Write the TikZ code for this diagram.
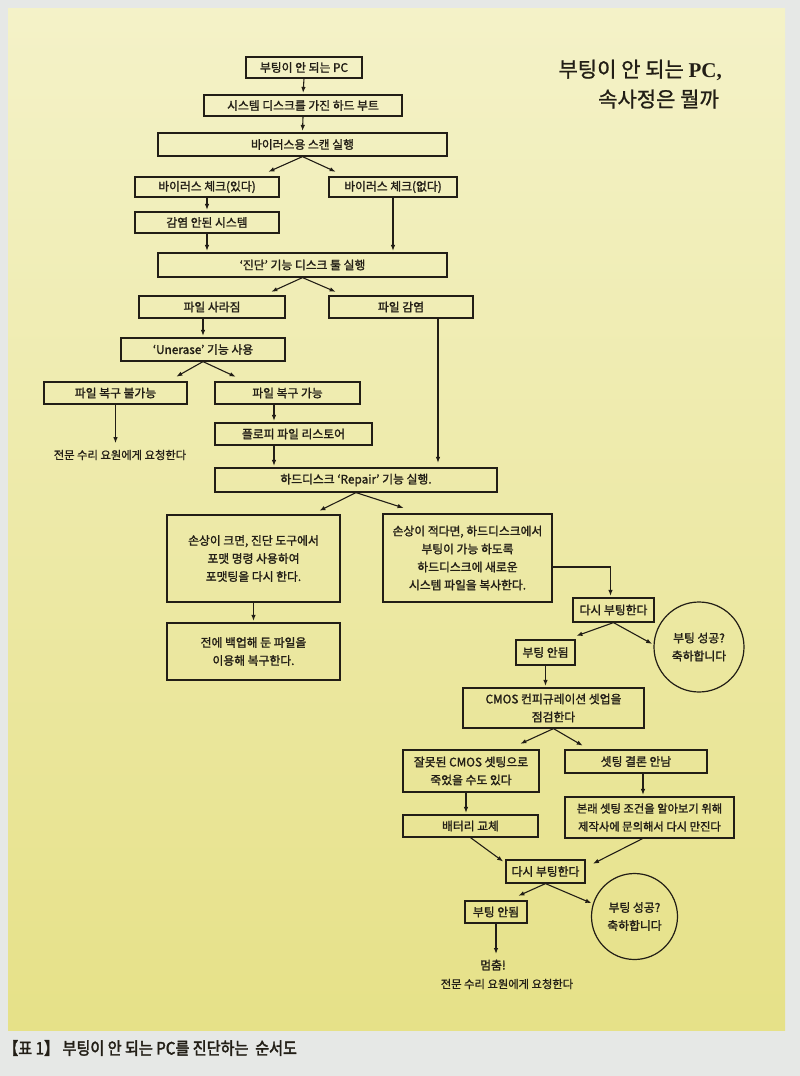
\documentclass[tikz,border=0pt]{standalone}
\usepackage{fontspec}
\usepackage{graphicx}
\setmainfont{Noto Sans CJK KR}
\newfontfamily\krb{Noto Sans CJK KR}[FakeBold=1.6]
\newfontfamily\krc{Noto Sans CJK KR}[FakeBold=2.4]
\newfontfamily\krr{Noto Sans CJK KR}[FakeBold=0.9]
\newfontfamily\krt{Noto Sans CJK KR}[FakeBold=1.0]
\newfontfamily\latserif{Liberation Serif}
\usetikzlibrary{arrows.meta,calc}
\definecolor{ink}{HTML}{221E16}
\definecolor{outer}{HTML}{E6E8E6}
\definecolor{paneltop}{HTML}{F4F2C8}
\definecolor{panelmid}{HTML}{EFECB0}
\definecolor{panelbot}{HTML}{E6E188}
\newcommand\boxfont{\krb\fontsize{11.8}{18}\selectfont}
\newcommand\plainfont{\krr\fontsize{11.3}{18}\selectfont}
\tikzset{
  bx/.style={draw=ink, line width=1.2pt, inner sep=1pt, align=center, font=\boxfont, text=ink},
  circ/.style={draw=ink, line width=1.2pt, circle, inner sep=0pt, align=center, font=\boxfont, text=ink},
  plain/.style={inner sep=1pt, align=center, font=\plainfont, text=ink},
  arr/.style={draw=ink, line width=1.1pt, -{Latex[length=6pt,width=4.5pt]}, shorten >=1.5pt},
  ln/.style={draw=ink, line width=1.1pt}
}
\begin{document}
\begin{tikzpicture}[x=1pt,y=-1pt]
\useasboundingbox (0,0) rectangle (800,1076);
\fill[outer] (0,0) rectangle (800,1076);
\shade[top color=paneltop, middle color=panelmid, bottom color=panelbot] (8,8) rectangle (785,1030);

% title
\node[anchor=east, inner sep=0pt, text=ink] (ttl1) at (722,70) {\krt\fontsize{21}{24}\selectfont 부팅이 안 되는 {\latserif\bfseries PC,}};
\node[anchor=east, inner sep=0pt, text=ink] (ttl2) at (719,99) {\krt\fontsize{21}{24}\selectfont 속사정은 뭘까};

% boxes
\node[bx, minimum width=116pt, minimum height=21pt] (n1) at (304,67.5) {부팅이 안 되는 PC};
\node[bx, minimum width=198pt, minimum height=21pt] (n2) at (303,105.5) {시스템 디스크를 가진 하드 부트};
\node[bx, minimum width=289pt, minimum height=23pt] (n3) at (302.5,144.5) {바이러스용 스캔 실행};
\node[bx, minimum width=144pt, minimum height=20pt] (n4) at (207,187) {바이러스 체크(있다)};
\node[bx, minimum width=128pt, minimum height=20pt] (n5) at (393,187) {바이러스 체크(없다)};
\node[bx, minimum width=144pt, minimum height=21pt] (n6) at (207,222.5) {감염 안된 시스템};
\node[bx, minimum width=289pt, minimum height=24pt] (n7) at (302.5,265) {‘진단’ 기능 디스크 툴 실행};
\node[bx, minimum width=146pt, minimum height=22pt] (n8) at (212,307) {파일 사라짐};
\node[bx, minimum width=144pt, minimum height=22pt] (n9) at (401,307) {파일 감염};
\node[bx, minimum width=164pt, minimum height=23pt] (n10) at (203,349.5) {‘Unerase’ 기능 사용};
\node[bx, minimum width=143pt, minimum height=22pt] (n11) at (115.5,393) {파일 복구 불가능};
\node[bx, minimum width=145pt, minimum height=22pt] (n12) at (287.5,393) {파일 복구 가능};
\node[plain] (t1) at (120,455) {전문 수리 요원에게 요청한다};
\node[bx, minimum width=157pt, minimum height=22pt] (n13) at (293.5,434) {플로피 파일 리스토어};
\node[bx, minimum width=282pt, minimum height=24pt] (n14) at (356,480) {하드디스크 ‘Repair’ 기능 실행.};
\node[bx, minimum width=173pt, minimum height=87pt] (n15) at (253.5,558.5) {손상이 크면, 진단 도구에서\\포맷 명령 사용하여\\포맷팅을 다시 한다.};
\node[bx, minimum width=169pt, minimum height=88pt] (n16) at (467.5,558) {손상이 적다면, 하드디스크에서\\부팅이 가능 하도록\\하드디스크에 새로운\\시스템 파일을 복사한다.};
\node[bx, minimum width=173pt, minimum height=57pt] (n17) at (253.5,651.5) {전에 백업해 둔 파일을\\이용해 복구한다.};
\node[bx, minimum width=81pt, minimum height=24pt] (n18) at (613.5,610) {다시 부팅한다};
\node[circ, minimum size=90pt] (c1) at (699,647) {부팅 성공?\\축하합니다};
\node[bx, minimum width=59pt, minimum height=25pt] (n19) at (545.5,652.5) {부팅 안됨};
\node[bx, minimum width=181pt, minimum height=40pt] (n20) at (553.5,708) {CMOS 컨피규레이션 셋업을\\점검한다};
\node[bx, minimum width=136pt, minimum height=42pt] (n21) at (471,771) {잘못된 CMOS 셋팅으로\\죽었을 수도 있다};
\node[bx, minimum width=142pt, minimum height=23pt] (n22) at (636,761.5) {셋팅 결론 안남};
\node[bx, minimum width=135pt, minimum height=22pt] (n23) at (470.5,826) {배터리 교체};
\node[bx, minimum width=169pt, minimum height=41pt, font=\krb\fontsize{11.3}{18}\selectfont] (n24) at (649.5,817.5) {본래 셋팅 조건을 알아보기 위해\\제작사에 문의해서 다시 만진다};
\node[bx, minimum width=79pt, minimum height=23pt] (n25) at (545.5,871.5) {다시 부팅한다};
\node[bx, minimum width=62pt, minimum height=22pt] (n26) at (496,912) {부팅 안됨};
\node[circ, minimum size=86pt] (c2) at (634.5,916.5) {부팅 성공?\\축하합니다};
\node[plain, font=\boxfont] (t2) at (493,965) {멈춤!};
\node[plain] (t3) at (507,984) {전문 수리 요원에게 요청한다};

% caption
\node[anchor=west, inner sep=0pt, text=ink] (cap) at (3,1048) {\scalebox{0.89}[1]{\krc\fontsize{17}{19}\selectfont 【표 1】 부팅이 안 되는 PC를 진단하는\ \ 순서도}};

% coordinates for vertical lines
\coordinate (x274) at (274,0);
\coordinate (x438) at (438,0);

% connectors
\draw[arr] (n1.south) -- (n2.north);
\draw[arr] (n2.south) -- (n3.north);
\draw[arr] (n3.south) -- ($(n4.north)+(60,-4)$);
\draw[arr] (n3.south) -- ($(n5.north)+(-56,-4)$);
\draw[arr] (n4.south) -- (n6.north);
\draw[arr] (n6.south) -- (n6.south |- n7.north);
\draw[arr] (n5.south) -- (n5.south |- n7.north);
\draw[arr] (n7.south) -- ($(n8.north)+(58,-3)$);
\draw[arr] (n7.south) -- ($(n9.north)+(-64,-3)$);
\draw[arr] (n10.north |- n8.south) -- (n10.north);
\draw[arr] (n10.south) -- ($(n11.north)+(59.5,-4)$);
\draw[arr] (n10.south) -- ($(n12.north)+(-50.5,-4)$);
\draw[arr] (n11.south) -- ($(n11.south |- t1.north)+(0,-4)$);
\draw[arr] (n12.south -| x274) -- (n13.north -| x274);
\draw[arr] (n13.south -| x274) -- (n14.north -| x274);
\draw[arr] (n9.south -| x438) -- ($(n14.north -| x438)+(0,-3)$);
\draw[arr] (n14.south) -- ($(n15.north)+(64.5,-3)$);
\draw[arr] (n14.south) -- ($(n16.north)+(-62.5,-5)$);
\draw[arr] (n15.south) -- (n17.north);
\draw[arr] ($(n16.east)+(0,9)$) -| ($(n18.north)+(-3,0)$);
\draw[arr] (n18.south) -- ($(n19.north)+(29.5,-3)$);
\draw[arr] (n18.south) -- (c1.177);
\draw[arr] (n19.south) -- (n19.south |- n20.north);
\draw[arr] (n20.south) -- ($(n21.north)+(48,-5)$);
\draw[arr] (n20.south) -- ($(n22.north)+(-52,-3)$);
\draw[arr] ($(n21.south)+(-5,0)$) -- ($(n23.north)+(-4.5,0)$);
\draw[arr] ($(n22.south)+(7,0)$) -- ($(n24.north)+(-6.5,0)$);
\draw[arr] (n23.south) -- ($(n25.north west)+(-1,3)$);
\draw[arr] ($(n24.south)+(-7,0)$) -- ($(n25.north east)+(6,5)$);
\draw[arr] (n25.south) -- ($(n26.north)+(21,-4)$);
\draw[arr] (n25.south) -- (c2.163);
\draw[arr] (n26.south) -- ($(n26.south |- t2.north)+(0,-3)$);
\end{tikzpicture}
\end{document}
